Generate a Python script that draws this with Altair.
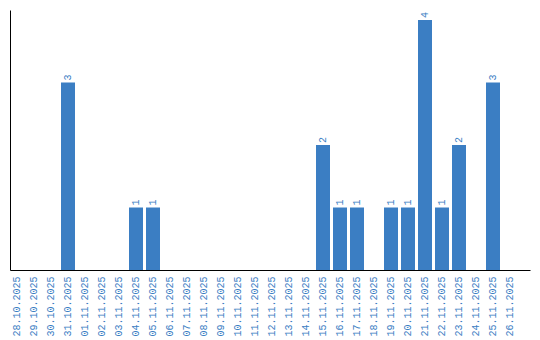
import altair as alt
import pandas as pd

dates = ["28.10.2025", "29.10.2025", "30.10.2025", "31.10.2025", "01.11.2025",
         "02.11.2025", "03.11.2025", "04.11.2025", "05.11.2025", "06.11.2025",
         "07.11.2025", "08.11.2025", "09.11.2025", "10.11.2025", "11.11.2025",
         "12.11.2025", "13.11.2025", "14.11.2025", "15.11.2025", "16.11.2025",
         "17.11.2025", "18.11.2025", "19.11.2025", "20.11.2025", "21.11.2025",
         "22.11.2025", "23.11.2025", "24.11.2025", "25.11.2025", "26.11.2025"]
counts = [0, 0, 0, 3, 0, 0, 0, 1, 1, 0, 0, 0, 0, 0, 0,
          0, 0, 0, 2, 1, 1, 0, 1, 1, 4, 1, 2, 0, 3, 0]

df = pd.DataFrame({"date": dates, "count": counts})
df_nz = df[df["count"] > 0]

BLUE = "#3b7ec3"
FONT = "Liberation Mono"

pi = 3 / 17
po = (520 / 17 - 30 + pi) / 2

xscale = alt.Scale(domain=dates, paddingInner=pi, paddingOuter=po, align=0)
yscale = alt.Scale(domain=[0, 4.16], nice=False)

bars = alt.Chart(df).mark_bar(color=BLUE).encode(
    x=alt.X("date:N", sort=dates, scale=xscale, title=None,
            axis=alt.Axis(labelAngle=270, labelAlign="right", labelBaseline="middle",
                          labelColor=BLUE, labelFont=FONT, labelFontSize=10,
                          ticks=False, labelPadding=6, domainColor="black",
                          domainWidth=1, labelOverlap=False, grid=False)),
    y=alt.Y("count:Q", scale=yscale, title=None,
            axis=alt.Axis(labels=False, ticks=False, grid=False,
                          domainColor="black", domainWidth=1)),
)

text = alt.Chart(df_nz).mark_text(
    color=BLUE, font=FONT, fontSize=10, angle=270, align="left",
    baseline="middle", dx=2
).encode(
    x=alt.X("date:N", sort=dates, scale=xscale, bandPosition=0.5),
    y=alt.Y("count:Q", scale=yscale),
    text="count:Q",
)

chart = (bars + text).properties(
    width=520, height=260,
    autosize=alt.AutoSizeParams(type="none"),
    padding={"left": 10, "top": 10, "right": 10, "bottom": 70},
).configure(background="white").configure_view(stroke=None, strokeWidth=0)

chart.save("out.html", embed_options={"renderer": "svg", "actions": False})
